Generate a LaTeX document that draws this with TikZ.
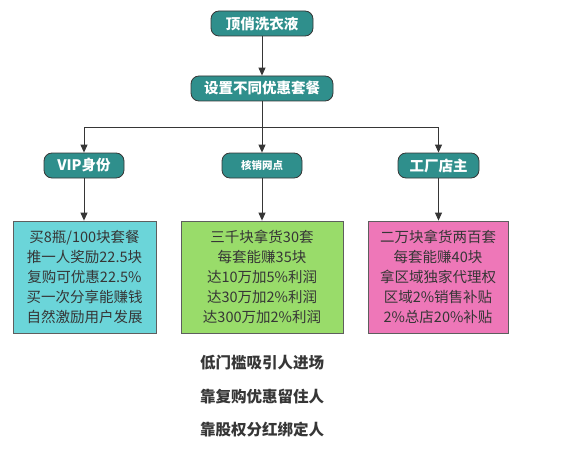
\documentclass[tikz,border=0pt]{standalone}
\usepackage{fontspec}
\setmainfont{Noto Sans CJK SC}
\usetikzlibrary{arrows.meta}
\definecolor{tealn}{HTML}{2F8F8C}
\definecolor{cyanb}{HTML}{6BD5D9}
\definecolor{greenb}{HTML}{99DC6A}
\definecolor{pinkb}{HTML}{EE77B8}
\definecolor{darkt}{HTML}{363636}
\begin{document}
\begin{tikzpicture}[x=1pt,y=-1pt,
  titlebox/.style={draw=darkt, line width=0.8pt, fill=tealn, rounded corners=8pt,
    minimum height=25pt, inner sep=0pt, text=white,
    font=\bfseries\fontsize{14.5}{16}\selectfont},
  infobox/.style={draw=darkt!80, line width=0.8pt, minimum height=112pt, inner sep=0pt,
    text=darkt, align=center, font=\fontsize{14.5}{20}\selectfont},
  note/.style={text=darkt, font=\bfseries\fontsize{15.5}{18}\selectfont},
  arr/.style={draw=darkt, line width=0.9pt, -{Triangle[length=8pt,width=7pt]}},
  ln/.style={draw=darkt, line width=0.9pt}]
\useasboundingbox (0,0) rectangle (577,449);
\node[titlebox, minimum width=102pt] (top) at (262,23.5) {顶俏洗衣液};
\node[titlebox, minimum width=142pt] (set) at (262,88.5) {设置不同优惠套餐};
\node[titlebox, minimum width=80pt] (vip) at (84,165.5) {VIP身份};
\node[titlebox, minimum width=80pt, font=\bfseries\fontsize{10.5}{12}\selectfont] (hx) at (262,165.5) {核销网点};
\node[titlebox, minimum width=81pt] (gc) at (438.5,165.5) {工厂店主};
\coordinate (br) at (262,127);
\node[infobox, fill=cyanb, minimum width=143pt] (b1) at (84.5,277)
  {买8瓶/100块套餐\\推一人奖励22.5块\\复购可优惠22.5\%\\买一次分享能赚钱\\自然激励用户发展};
\node[infobox, fill=greenb, minimum width=162pt] (b2) at (262,277)
  {三千块拿货30套\\每套能赚35块\\达10万加5\%利润\\达30万加2\%利润\\达300万加2\%利润};
\node[infobox, fill=pinkb, minimum width=140pt] (b3) at (438,277)
  {二万块拿货两百套\\每套能赚40块\\拿区域独家代理权\\区域2\%销售补贴\\2\%总店20\%补贴};
\node[note] (n1) at (262,363) {低门槛吸引人进场};
\node[note] (n2) at (262,397) {靠复购优惠留住人};
\node[note] (n3) at (262,430) {靠股权分红绑定人};
\draw[arr] (top) -- (set);
\draw[arr] (set) -- (hx);
\draw[arr] (br) -| (vip);
\draw[arr] (br) -| (gc);
\draw[arr] (vip) -- (vip |- b1.north);
\draw[arr] (hx) -- (b2);
\draw[arr] (gc) -- (gc |- b3.north);
\end{tikzpicture}
\end{document}
